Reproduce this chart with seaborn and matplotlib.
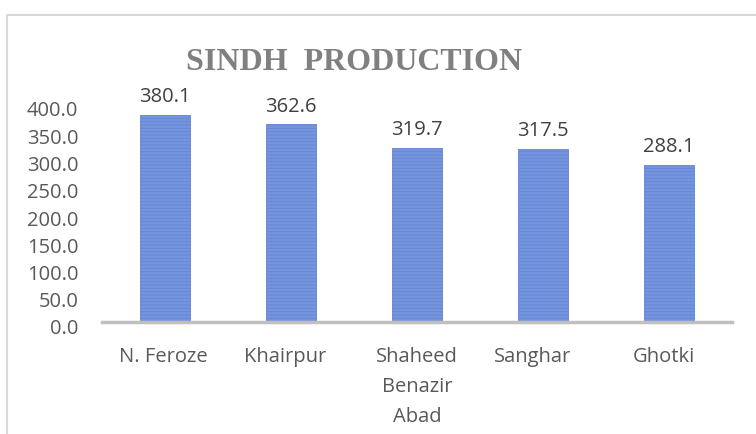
import matplotlib
matplotlib.use("Agg")
import matplotlib.pyplot as plt
import matplotlib.transforms as mtransforms
import seaborn as sns
import pandas as pd
from matplotlib.patches import Rectangle

districts = ["N. Feroze", "Khairpur", "Shaheed\nBenazir\nAbad", "Sanghar", "Ghotki"]
production = [380.1, 362.6, 319.7, 317.5, 288.1]
yticks = [0, 50, 100, 150, 200, 250, 300, 350, 400]
title = "SINDH  PRODUCTION"

df = pd.DataFrame({"district": districts, "production": production})

sns.set_theme(style="white")
plt.rcParams["font.family"] = ["Open Sans", "DejaVu Sans"]
plt.rcParams["hatch.linewidth"] = 0.5

fig = plt.figure(figsize=(7.56, 4.34), dpi=100)
ax = fig.add_axes([102 / 756, 1 - 322 / 434, 630 / 756, 218 / 434])

sns.barplot(data=df, x="district", y="production", ax=ax, color="#7594de",
            width=0.39, saturation=1, edgecolor="#6483d2", linewidth=0.6,
            hatch="-----")

for p, v in zip(ax.patches, production):
    ax.text(p.get_x() + p.get_width() / 2, v + 14, f"{v:.1f}", ha="center",
            va="bottom", fontsize=14.5, color="#404040")

ax.set_ylim(0, 400)
ax.set_xlim(-0.5, 4.5)
ax.set_yticks(yticks)
ax.set_yticklabels([f"{t:.1f}" for t in yticks])
ax.set_xlabel("")
ax.set_ylabel("")
for s in ["top", "right", "left"]:
    ax.spines[s].set_visible(False)
ax.spines["bottom"].set_color("#bfbfbf")
ax.spines["bottom"].set_linewidth(2.5)
ax.tick_params(axis="y", length=0, pad=17, labelsize=14.5, labelcolor="#595959")
ax.tick_params(axis="x", length=0, pad=18, labelsize=14.5, labelcolor="#595959")

ydown = mtransforms.ScaledTranslation(0, -5 / 100, fig.dpi_scale_trans)
for lab in ax.get_yticklabels():
    lab.set_transform(lab.get_transform() + ydown)

x_shift_px = [-2, -6, 0, -10, -5]
for lab, dx in zip(ax.get_xticklabels(), x_shift_px):
    lab.set_linespacing(1.65)
    lab.set_transform(lab.get_transform() +
                      mtransforms.ScaledTranslation(dx / 100, 0, fig.dpi_scale_trans))

fig.text(354.5 / 756, 1 - 62.5 / 434, title, ha="center", va="center",
         fontsize=23, fontweight="bold", family="Liberation Serif", color="#808080")

fig.patches.append(Rectangle((7 / 756, -0.1), 1.2, 1 - 15 / 434 + 0.1,
                             transform=fig.transFigure, fill=False,
                             edgecolor="#d9d9d9", linewidth=1.5, zorder=0))

fig.savefig("out.png", dpi=100)
